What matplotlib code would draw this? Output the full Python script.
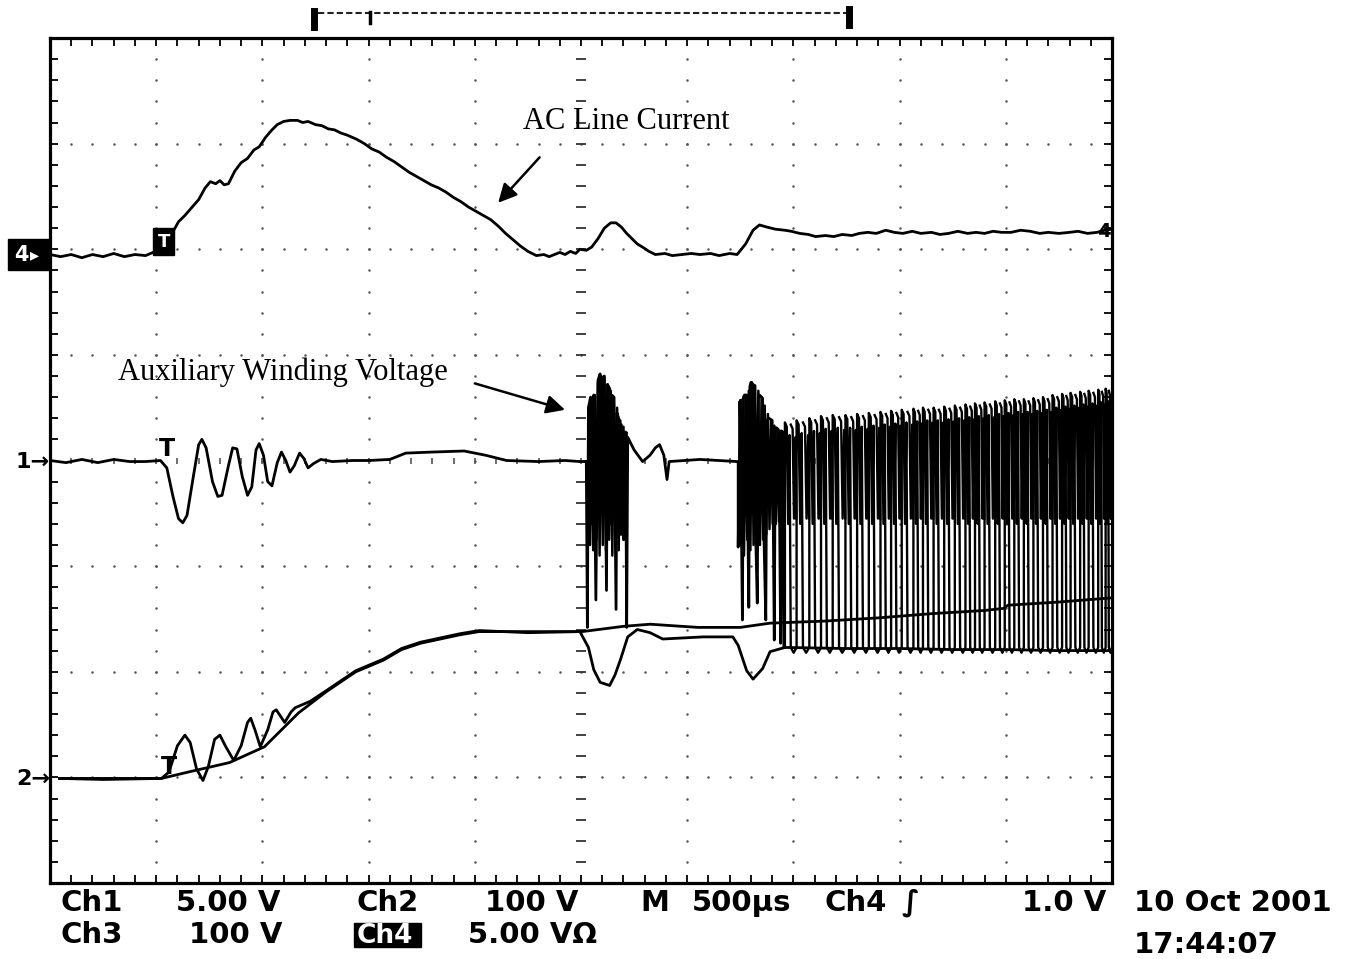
""" Oscilloscope capture: AC line current and auxiliary winding voltage """

import numpy as np
import matplotlib.pyplot as plt
from matplotlib.patches import Rectangle

# pylint: disable=invalid-name

W, H = 1347, 959

# --- trace data, in screen divisions (x: 0..10, 500 us/div; y: 0..8) ---

# Ch4: AC line current
ch4_t = [0.00, 0.10, 0.20, 0.30, 0.40, 0.50, 0.60, 0.70, 0.80, 0.90, 0.97, 1.04,
         1.10, 1.16, 1.21, 1.27, 1.34, 1.40, 1.46, 1.51, 1.56, 1.60, 1.64, 1.68,
         1.74, 1.80, 1.86, 1.92, 1.97, 2.03, 2.09, 2.14, 2.20, 2.26, 2.33, 2.38,
         2.43, 2.50, 2.56, 2.62, 2.68, 2.74, 2.80, 2.89, 2.96, 3.03, 3.10, 3.17,
         3.24, 3.31, 3.38, 3.45, 3.52, 3.59, 3.66, 3.73, 3.80, 3.87, 3.94, 4.01,
         4.08, 4.15, 4.22, 4.29, 4.36, 4.43, 4.50, 4.58, 4.65, 4.70, 4.75, 4.80,
         4.85, 4.90, 4.95, 4.99, 5.05, 5.10, 5.16, 5.22, 5.28, 5.33, 5.38, 5.43,
         5.48, 5.53, 5.58, 5.64, 5.70, 5.79, 5.86, 5.95, 6.04, 6.12, 6.22, 6.30,
         6.40, 6.47, 6.55, 6.62, 6.68, 6.75, 6.83, 6.92, 6.98, 7.06, 7.14, 7.21,
         7.30, 7.38, 7.46, 7.55, 7.62, 7.70, 7.78, 7.87, 7.95, 8.03, 8.12, 8.20,
         8.30, 8.38, 8.46, 8.55, 8.64, 8.72, 8.80, 8.88, 8.96, 9.05, 9.14, 9.23,
         9.32, 9.40, 9.50, 9.60, 9.68, 9.77, 9.86, 9.93, 10.00]
ch4_v = [5.95, 5.93, 5.95, 5.92, 5.95, 5.93, 5.96, 5.93, 5.95, 5.94, 5.97, 5.96,
         6.07, 6.17, 6.26, 6.32, 6.40, 6.47, 6.58, 6.64, 6.62, 6.65, 6.61, 6.62,
         6.74, 6.82, 6.86, 6.94, 6.97, 7.06, 7.13, 7.18, 7.21, 7.22, 7.22, 7.20,
         7.21, 7.18, 7.17, 7.14, 7.13, 7.10, 7.08, 7.04, 7.00, 6.95, 6.92, 6.87,
         6.83, 6.78, 6.73, 6.69, 6.65, 6.61, 6.58, 6.54, 6.49, 6.45, 6.40, 6.36,
         6.32, 6.28, 6.22, 6.15, 6.09, 6.03, 5.98, 5.94, 5.95, 5.93, 5.95, 5.97,
         5.95, 5.98, 5.96, 6.00, 5.99, 6.02, 6.10, 6.20, 6.25, 6.25, 6.21, 6.15,
         6.10, 6.05, 6.02, 5.98, 5.95, 5.96, 5.94, 5.95, 5.96, 5.95, 5.96, 5.94,
         5.96, 5.95, 6.05, 6.18, 6.23, 6.21, 6.19, 6.18, 6.17, 6.15, 6.14, 6.12,
         6.13, 6.12, 6.14, 6.13, 6.15, 6.16, 6.15, 6.18, 6.16, 6.15, 6.17, 6.15,
         6.16, 6.14, 6.15, 6.17, 6.15, 6.16, 6.15, 6.17, 6.16, 6.16, 6.18, 6.17,
         6.15, 6.16, 6.15, 6.16, 6.17, 6.15, 6.16, 6.18, 6.19]

# Ch1: auxiliary winding voltage, start-up ringing and the two first bursts
ch1_t = [0.00, 0.15, 0.30, 0.45, 0.60, 0.75, 0.90, 1.04, 1.10, 1.16, 1.21, 1.25,
         1.29, 1.35, 1.40, 1.43, 1.47, 1.53, 1.58, 1.62, 1.68, 1.72, 1.76, 1.81,
         1.86, 1.90, 1.94, 1.97, 2.01, 2.05, 2.09, 2.14, 2.18, 2.22, 2.26, 2.30,
         2.35, 2.39, 2.43, 2.48, 2.55, 2.66, 2.85, 3.00, 3.20, 3.35, 3.60, 3.90,
         4.10, 4.30, 4.60, 4.85, 4.99,
         5.05, 5.06, 5.07, 5.09, 5.10, 5.11, 5.12, 5.14, 5.16, 5.18, 5.19, 5.20,
         5.22, 5.24, 5.25, 5.27, 5.28, 5.29, 5.31, 5.33, 5.34, 5.36, 5.37, 5.38,
         5.40, 5.42, 5.43, 5.44, 5.50, 5.58, 5.65, 5.70, 5.74, 5.78, 5.81, 5.83,
         6.12, 6.47,
         6.48, 6.48, 6.50, 6.51, 6.52, 6.53, 6.54, 6.56, 6.57, 6.58, 6.59, 6.60,
         6.63, 6.64, 6.66, 6.67, 6.68, 6.71, 6.72, 6.74, 6.75, 6.77, 6.80, 6.81,
         6.82, 6.83, 6.84, 6.86, 6.87, 6.88, 6.89, 6.90, 6.91]
ch1_v = [4.00, 3.98, 4.01, 3.98, 4.01, 3.99, 3.99, 4.00, 3.93, 3.65, 3.45, 3.41,
         3.48, 3.85, 4.15, 4.20, 4.12, 3.80, 3.66, 3.67, 3.95, 4.12, 4.11, 3.85,
         3.67, 3.75, 4.10, 4.16, 4.05, 3.80, 3.76, 3.98, 4.08, 4.00, 3.89, 3.95,
         4.07, 4.02, 3.93, 3.97, 4.01, 3.99, 4.00, 4.00, 4.01, 4.07, 4.08, 4.09,
         4.05, 4.00, 3.99, 4.00, 3.99,
         3.99, 2.42, 4.50, 4.60, 3.40, 4.55, 4.62, 2.68, 4.76, 4.82, 3.50, 4.78,
         4.80, 2.77, 4.72, 4.68, 3.40, 4.62, 4.60, 2.59, 4.45, 4.38, 3.30, 4.34,
         3.25, 4.27, 2.42, 4.22, 4.10, 3.99, 4.05, 4.12, 4.15, 4.05, 3.82, 3.99,
         4.01, 3.99,
         3.99, 3.18, 4.57, 3.40, 2.49, 4.60, 4.62, 4.62, 3.50, 2.61, 4.70, 4.74,
         4.71, 3.50, 2.65, 4.60, 4.62, 4.59, 3.40, 2.49, 4.38, 4.40, 4.38, 3.45,
         2.30, 4.31, 4.31, 4.29, 3.45, 2.27, 4.28, 4.27, 2.23]

# Ch1: dense ringing inside the two bursts (persistence)
burst_t = [5.07, 5.085, 5.10, 5.115, 5.13, 5.145, 5.16, 5.175, 5.19, 5.205,
           5.22, 5.235, 5.25, 5.265, 5.28, 5.295, 5.31, 5.325, 5.34, 5.355,
           5.37, 5.385, 5.40, 5.415, 5.43, np.nan,
           6.49, 6.505, 6.52, 6.535, 6.55, 6.565, 6.58, 6.595, 6.61, 6.625,
           6.64, 6.655, 6.67, 6.685, 6.70, 6.715, 6.73, 6.745, 6.76, 6.775,
           6.79, 6.805, 6.82, 6.835, 6.85, 6.865, 6.88, 6.895]
burst_v = [4.50, 3.20, 4.58, 3.15, 4.62, 3.25, 4.74, 3.10, 4.80, 3.20,
           4.78, 3.15, 4.72, 3.25, 4.66, 3.10, 4.60, 3.20, 4.50, 3.15,
           4.38, 3.30, 4.32, 3.25, 4.26, np.nan,
           4.55, 3.20, 4.58, 3.10, 4.62, 3.25, 4.66, 3.15, 4.74, 3.20,
           4.71, 3.30, 4.66, 3.20, 4.60, 3.25, 4.52, 3.30, 4.44, 3.35,
           4.38, 3.40, 4.33, 3.40, 4.30, 3.42, 4.28, 3.45]

# Ch1: steady switching train (cycle start and top level of each pulse)
pulse_start = [6.92, 7.03, 7.15, 7.26, 7.37, 7.49, 7.60, 7.71, 7.82, 7.92, 8.02,
               8.13, 8.22, 8.32, 8.42, 8.52, 8.62, 8.71, 8.80, 8.90, 8.99, 9.08,
               9.17, 9.26, 9.35, 9.44, 9.53, 9.61, 9.70, 9.78, 9.87, 9.94]
pulse_top = [4.36, 4.38, 4.40, 4.42, 4.43, 4.43, 4.44, 4.45, 4.46, 4.47, 4.48,
             4.49, 4.50, 4.50, 4.51, 4.52, 4.53, 4.54, 4.55, 4.56, 4.57, 4.58,
             4.58, 4.59, 4.60, 4.62, 4.63, 4.64, 4.65, 4.66, 4.67, 4.68]
pulse_low = 2.23
pulse_mid = 3.40

# Ch3: bus voltage, smooth trace
ch3_t = [0.09, 0.50, 1.00, 1.05, 1.30, 1.69, 2.02, 2.34, 2.60, 2.88, 3.14, 3.31,
         3.49, 3.86, 4.04, 4.50, 5.01, 5.40, 5.65, 6.10, 6.50, 6.78, 7.30, 7.80,
         8.30, 8.80, 8.98, 9.02, 9.50, 10.00]
ch3_v = [0.99, 0.99, 0.99, 0.99, 1.05, 1.14, 1.29, 1.61, 1.81, 2.00, 2.11, 2.21,
         2.27, 2.35, 2.38, 2.38, 2.38, 2.43, 2.45, 2.42, 2.42, 2.46, 2.48, 2.51,
         2.55, 2.58, 2.60, 2.63, 2.66, 2.70]

# Ch2: second trace, with start-up ringing and dips at each burst
ch2_t = [0.09, 0.50, 1.05, 1.12, 1.20, 1.27, 1.32, 1.38, 1.44, 1.49, 1.55, 1.60,
         1.65, 1.73, 1.80, 1.86, 1.89, 1.93, 1.98, 2.05, 2.10, 2.13, 2.17, 2.21,
         2.27, 2.31, 2.45, 2.60, 2.88, 3.14, 3.31, 3.49, 3.86, 4.04, 4.50, 4.99,
         5.07, 5.12, 5.18, 5.27, 5.32, 5.37, 5.44, 5.53, 5.65, 5.77, 6.15, 6.43,
         6.48, 6.56, 6.62, 6.71, 6.78, 6.92, 7.50, 8.00, 8.50, 9.00, 9.50, 10.00]
ch2_v = [0.99, 0.98, 0.99, 1.05, 1.30, 1.40, 1.33, 1.08, 0.97, 1.10, 1.36, 1.40,
         1.30, 1.16, 1.30, 1.52, 1.56, 1.45, 1.29, 1.45, 1.62, 1.64, 1.58, 1.52,
         1.62, 1.66, 1.72, 1.82, 2.01, 2.12, 2.22, 2.28, 2.36, 2.39, 2.37, 2.38,
         2.23, 2.02, 1.90, 1.87, 1.97, 2.11, 2.33, 2.40, 2.37, 2.31, 2.33, 2.33,
         2.25, 2.01, 1.93, 2.03, 2.19, 2.23, 2.22, 2.22, 2.21, 2.21, 2.20, 2.20]

# --- readout text ---
readout_1 = [('Ch1', 60), ('5.00 V', 176), ('Ch2', 357), ('100 V', 485),
             ('M', 640), ('500\u00b5s', 692), ('Ch4', 825), ('\u222b', 902),
             ('1.0 V', 1022)]
readout_2 = [('Ch3', 60), ('100 V', 189), ('5.00 V\u03a9', 468)]
date_text = '10 Oct 2001'
time_text = '17:44:07'

# relative shape of the ringing on top of a pulse (fraction of period, offset
# below the top; None means down to the mid level)
CAP_F = [0.00, 0.16, 0.28, 0.40]
CAP_D = [0.00, -0.04, None, -0.12]


def cap(s, p, top, mid):
    """ Ringing between the pulse top and the mid level """
    xs = [s + f*p for f in CAP_F]
    ys = [mid if d is None else top + d for d in CAP_D]
    return xs, ys


def pulse_train(starts, tops, t_end, low, mid):
    """ Polyline of the switching pulses, plus persistence ringing """
    xs, ys, fx_, fy_ = [], [], [], []
    ends = list(starts[1:]) + [t_end]
    for s, e, top in zip(starts, ends, tops):
        p = e - s
        cx, cy = cap(s, p, top, mid)
        xs += [s] + cx + [s + 0.50*p, s + 0.75*p]
        ys += [low] + cy + [low, low - 0.05]
        cx, cy = cap(s + 0.5*p, p, top - 0.02, mid + 0.05)
        fx_ += cx + [s + 0.98*p, np.nan]
        fy_ += cy + [mid + 0.05, np.nan]
    xs.append(t_end)
    ys.append(low)
    return xs, ys, fx_, fy_


def fx(px):
    """ pixel x -> figure fraction """
    return px / W


def fy(py):
    """ pixel y -> figure fraction """
    return 1 - py / H


fig = plt.figure(figsize=(W / 100, H / 100), dpi=100)
fig.patch.set_facecolor('white')
ax = fig.add_axes([fx(50), fy(883), 1062 / W, 845 / H])
ax.set_xlim(0, 10)
ax.set_ylim(0, 8)

# Graticule
for s in ax.spines.values():
    s.set_linewidth(2.3)
ax.set_xticks(np.arange(0, 10.01, 0.2))
ax.set_yticks(np.arange(0, 8.01, 0.2))
ax.tick_params(direction='in', length=5.5, width=1.3, top=True, right=True,
               labelbottom=False, labelleft=False, color='black')

minor_y = np.arange(0.2, 8, 0.2)
minor_x = np.arange(0.2, 10, 0.2)
for gx in range(1, 10):
    if gx != 5:
        ax.plot(np.full_like(minor_y, gx), minor_y, ls='none', marker='o',
                ms=1.8, color='#555555', mec='none')
for gy in range(1, 8):
    if gy != 4:
        ax.plot(minor_x, np.full_like(minor_x, gy), ls='none', marker='o',
                ms=1.8, color='#555555', mec='none')
ax.plot(np.full_like(minor_y, 5), minor_y, ls='none', marker='_', ms=7,
        mew=1.3, color='#333333')
ax.plot(minor_x, np.full_like(minor_x, 4), ls='none', marker='|', ms=5,
        mew=1.2, color='#555555')

# Traces
trace = dict(color='black', lw=2.0, solid_joinstyle='round')
ax.plot(ch3_t, ch3_v, **trace)
ax.plot(ch2_t, ch2_v, **trace)
ax.plot(ch4_t, ch4_v, **trace)
ax.plot(ch1_t, ch1_v, **trace)
ax.plot(burst_t, burst_v, color='black', lw=1.8)
tx, ty, rx, ry = pulse_train(pulse_start, pulse_top, 10.0, pulse_low, pulse_mid)
ax.plot(tx, ty, color='black', lw=1.7, solid_joinstyle='round')
ax.plot(rx, ry, color='black', lw=1.7, solid_joinstyle='round')

# Trigger markers
ax.text(1.07, 6.07, 'T', color='white', fontsize=13, fontweight='bold',
        ha='center', va='center',
        bbox=dict(facecolor='black', edgecolor='black', boxstyle='square,pad=0.25'))
ax.text(1.10, 4.0, 'T', color='black', fontsize=17, fontweight='bold',
        ha='center', va='bottom')
ax.text(1.12, 0.98, 'T', color='black', fontsize=17, fontweight='bold',
        ha='center', va='bottom')
ax.text(9.92, 6.17, '4', color='black', fontsize=14, fontweight='bold',
        ha='center', va='center')

# Annotations
serif = ['Liberation Serif', 'DejaVu Serif']
arrow = dict(arrowstyle='-|>', color='black', lw=1.8, mutation_scale=28,
             shrinkA=0, shrinkB=0)
ax.text(5.43, 7.21, 'AC Line Current', fontsize=22, family=serif,
        ha='center', va='center')
ax.annotate('', xy=(4.22, 6.44), xytext=(4.61, 6.87), arrowprops=arrow)
ax.text(2.19, 4.84, 'Auxiliary Winding Voltage', fontsize=22, family=serif,
        ha='center', va='center')
ax.annotate('', xy=(4.85, 4.48), xytext=(4.00, 4.73), arrowprops=arrow)

# Channel ground markers on the left
fig.add_artist(Rectangle((fx(8), fy(270)), 42 / W, 31 / H,
                         transform=fig.transFigure, color='black'))
fig.text(fx(14), fy(255), '4', color='white', fontsize=15, fontweight='bold',
         va='center', ha='left')
fig.text(fx(30), fy(255), '\u25b8', color='white', fontsize=13,
         va='center', ha='left')
fig.text(fx(50), fy(462), '1\u2192', color='black', fontsize=16,
         fontweight='bold', va='center', ha='right')
fig.text(fx(50), fy(779), '2\u2192', color='black', fontsize=16,
         fontweight='bold', va='center', ha='right')

# Record position bracket at the top
fig.add_artist(plt.Line2D([fx(318), fx(846)], [fy(13), fy(13)],
                          color='#222222', lw=1.5, ls=(0, (3, 1.5))))
for bx, top, bot, lw in [(314, 11, 27, 5), (849, 9, 25, 5), (370, 12, 23, 2.5)]:
    fig.add_artist(plt.Line2D([fx(bx), fx(bx)], [fy(top), fy(bot)],
                              color='black', lw=lw))

# Readout
font = dict(fontsize=21, fontweight='bold', family='DejaVu Sans',
            va='baseline', ha='left', color='black')
for txt, x in readout_1:
    fig.text(fx(x), fy(911), txt, **font)
for txt, x in readout_2:
    fig.text(fx(x), fy(943), txt, **font)
fig.add_artist(Rectangle((fx(354), fy(947)), 67 / W, 24 / H,
                         transform=fig.transFigure, color='black'))
fig.text(fx(357), fy(943), 'Ch4', color='white', fontsize=19,
         fontweight='bold', va='baseline', ha='left')
fig.text(fx(1134), fy(911), date_text, **font)
fig.text(fx(1134), fy(953), time_text, **font)

fig.savefig('out.png', dpi=100, facecolor='white')
